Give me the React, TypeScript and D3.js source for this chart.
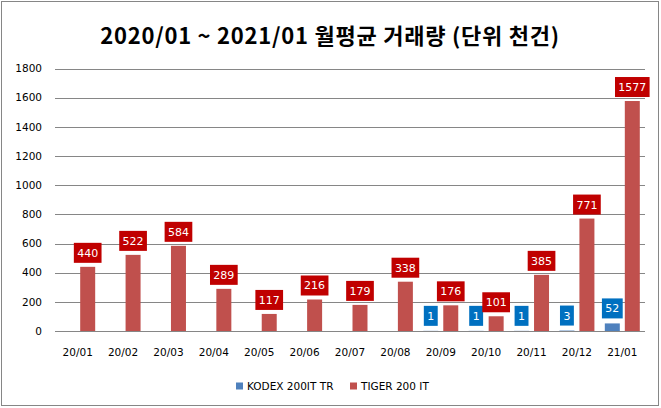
import React from "react";
import { scaleBand, scaleLinear } from "d3";

const categories = [
  "20/01", "20/02", "20/03", "20/04", "20/05", "20/06", "20/07",
  "20/08", "20/09", "20/10", "20/11", "20/12", "21/01",
];
const kodex: (number | null)[] = [null, null, null, null, null, null, null, null, 1, 1, 1, 3, 52];
const tiger = [440, 522, 584, 289, 117, 216, 179, 338, 176, 101, 385, 771, 1577];
const yTicks = [0, 200, 400, 600, 800, 1000, 1200, 1400, 1600, 1800];

const seriesNames = ["KODEX 200IT TR", "TIGER 200 IT"];
const barColors = ["#4F81BD", "#C0504D"];
const boxColors = ["#0070C0", "#C00000"];

const width = 661;
const height = 408;
const left = 55;
const right = 645;
const top = 68.5;
const bottom = 331;
const axisFont = "'DejaVu Sans', sans-serif";

function Label({ x, y, value, fill }: { x: number; y: number; value: number; fill: string }) {
  const txt = String(value);
  const w = txt.length * 6.9 + 7;
  const h = 20;
  return (
    <g>
      <rect x={x - w / 2} y={y - 4 - h} width={w} height={h} fill={fill} />
      <text
        x={x}
        y={y - 4 - h / 2}
        dy="0.36em"
        textAnchor="middle"
        fontSize="11px"
        fontFamily={axisFont}
        fill="#fff"
      >
        {txt}
      </text>
    </g>
  );
}

export default function App() {
  const x0 = scaleBand<string>().domain(categories).range([left, right]).padding(0);
  const x1 = scaleBand<string>()
    .domain(["kodex", "tiger"])
    .range([0, x0.bandwidth()])
    .paddingInner(0.25)
    .paddingOuter(0.26);
  const y = scaleLinear().domain([0, 1800]).range([bottom, top]);

  return (
    <svg
      width={width}
      height={height}
      style={{ position: "absolute", left: 0, top: 0, background: "#fff" }}
    >
      <rect x={1.5} y={1.5} width={657} height={404} fill="#fff" stroke="#868686" />

      {/* title */}
      <text
        x={330}
        y={44}
        textAnchor="middle"
        fontSize="22px"
        fontWeight="bold"
        letterSpacing="0.75px"
        fontFamily="'Noto Sans CJK KR', sans-serif"
        fill="#000"
      >
        2020/01 ~ 2021/01 월평균 거래량 (단위 천건)
      </text>

      {/* grid + y labels */}
      {yTicks.map((t) => (
        <g key={t}>
          <line x1={left} x2={right} y1={Math.round(y(t)) + 0.5} y2={Math.round(y(t)) + 0.5} stroke="#868686" />
          <text
            x={42}
            y={y(t)}
            dy="0.36em"
            textAnchor="end"
            fontSize="10.5px"
            fontFamily={axisFont}
            fill="#000"
          >
            {t}
          </text>
        </g>
      ))}

      {/* bars */}
      {categories.map((c, i) => {
        const bx = x0(c) ?? 0;
        const k = kodex[i];
        const t = tiger[i];
        const kx = bx + (x1("kodex") ?? 0);
        const tx = bx + (x1("tiger") ?? 0);
        const bw = x1.bandwidth();
        return (
          <g key={c}>
            {k !== null && (
              <rect x={kx} y={y(k)} width={bw} height={bottom - y(k)} fill={barColors[0]} />
            )}
            <rect x={tx} y={y(t)} width={bw} height={bottom - y(t)} fill={barColors[1]} />
          </g>
        );
      })}

      {/* labels */}
      {categories.map((c, i) => {
        const bx = x0(c) ?? 0;
        const k = kodex[i];
        const t = tiger[i];
        const bw = x1.bandwidth();
        return (
          <g key={`l-${c}`}>
            {k !== null && (
              <Label x={bx + (x1("kodex") ?? 0) + bw / 2} y={y(k) - 1} value={k} fill={boxColors[0]} />
            )}
            <Label x={bx + (x1("tiger") ?? 0) + bw / 2} y={y(t)} value={t} fill={boxColors[1]} />
          </g>
        );
      })}

      {/* x labels */}
      {categories.map((c) => (
        <text
          key={`x-${c}`}
          x={(x0(c) ?? 0) + x0.bandwidth() / 2}
          y={352}
          dy="0.36em"
          textAnchor="middle"
          fontSize="10.5px"
          fontFamily={axisFont}
          fill="#000"
        >
          {c}
        </text>
      ))}

      {/* legend */}
      {seriesNames.map((s, i) => {
        const lx = i === 0 ? 236 : 350;
        return (
          <g key={s}>
            <rect x={lx} y={382.5} width={7} height={7} fill={barColors[i]} />
            <text
              x={lx + 11}
              y={386}
              dy="0.36em"
              fontSize="10.5px"
              fontFamily={axisFont}
              fill="#000"
            >
              {s}
            </text>
          </g>
        );
      })}
    </svg>
  );
}
